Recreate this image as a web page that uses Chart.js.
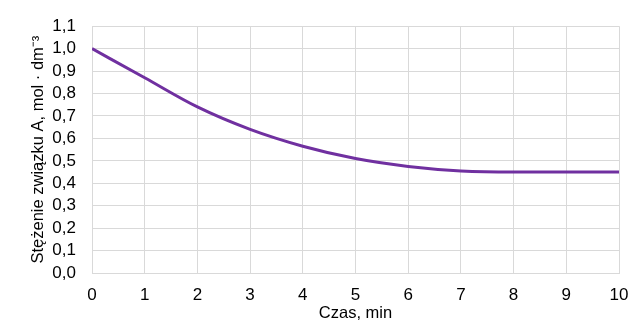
<!DOCTYPE html>
<html>
<head>
<meta charset="utf-8">
<script src="https://cdn.jsdelivr.net/npm/chart.js@4.4.0/dist/chart.umd.min.js"></script>
<style>
  html, body { margin: 0; padding: 0; background: #ffffff; }
  #wrap { width: 644px; height: 332px; }
</style>
</head>
<body>
<div id="wrap"><canvas id="chart" width="644" height="332"></canvas></div>
<script>
var czas = [0, 1, 2, 3, 4, 5, 6, 7, 8, 9, 10];
var stezenie = [1.0, 0.87, 0.74, 0.64, 0.565, 0.51, 0.475, 0.455, 0.45, 0.45, 0.45];

var FONT = "'Liberation Sans', Arial, sans-serif";

var points = [];
for (var i = 0; i < czas.length; i++) {
  points.push({x: czas[i], y: stezenie[i]});
}

function comma(v, digits) {
  return Number(v).toFixed(digits).replace('.', ',');
}

var ctx = document.getElementById('chart').getContext('2d');
var chart = new Chart(ctx, {
  type: 'line',
  data: {
    datasets: [{
      data: points,
      borderColor: '#7030a0',
      borderWidth: 3,
      pointRadius: 0,
      fill: false,
      cubicInterpolationMode: 'monotone'
    }]
  },
  options: {
    responsive: false,
    animation: false,
    layout: { padding: { left: 29, right: 25, top: 24, bottom: 9 } },
    plugins: {
      legend: { display: false },
      tooltip: { enabled: false }
    },
    scales: {
      x: {
        type: 'linear',
        min: 0,
        max: 10,
        ticks: { stepSize: 1, autoSkip: false, maxRotation: 0, color: '#000', font: { family: FONT, size: 17 }, padding: 12 },
        grid: { color: '#d9d9d9', drawTicks: false },
        border: { color: '#d9d9d9' },
        title: { display: true, text: 'Czas, min', color: '#000', font: { family: FONT, size: 16.5 }, padding: { top: 0, bottom: 0 } },
        afterFit: function (s) { s.height = 332 - 273 - 9; }
      },
      y: {
        min: 0,
        max: 1.1,
        ticks: {
          stepSize: 0.1,
          autoSkip: false,
          color: '#000',
          font: { family: FONT, size: 17 },
          padding: 16,
          callback: function (v) { return comma(v, 1); }
        },
        grid: { color: '#d9d9d9', drawTicks: false },
        border: { color: '#d9d9d9' },
        title: { display: true, text: 'Stężenie związku A, mol · dm⁻³', color: '#000', font: { family: FONT, size: 16.5 }, padding: { top: 0, bottom: 0 } },
        afterFit: function (s) { s.width = 92 - 29; }
      }
    }
  }
});
</script>
</body>
</html>
